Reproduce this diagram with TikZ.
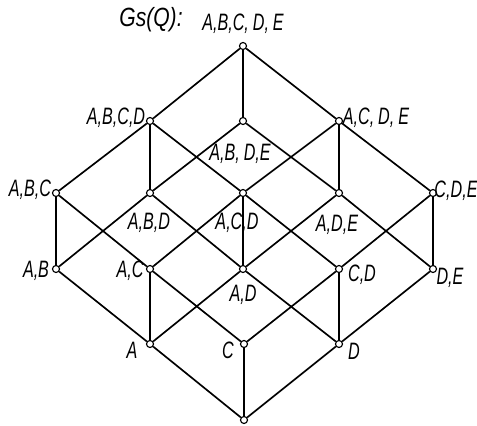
\documentclass[tikz,border=0pt]{standalone}
\usepackage{fontspec}
\newfontfamily\lblfont[FakeStretch=0.68]{Liberation Sans}
\newfontfamily\titlefont[FakeStretch=0.8]{Liberation Sans}

\begin{document}
\begin{tikzpicture}[x=0.02cm, y=-0.02cm, line width=0.95pt,
    vtx/.style={draw, circle, inner sep=0pt, minimum size=4pt, line width=0.65pt},
    lbl/.style={font=\lblfont\itshape\fontsize{13.5}{15}\selectfont, inner sep=0pt}]
    \useasboundingbox (0, 0) rectangle (477, 426);

    % Title
    \node[font=\titlefont\itshape\fontsize{15}{17}\selectfont, inner sep=0pt] (title) at (151, 20) {Gs(Q):};

    % Vertices
    \node[vtx] (top) at (243, 46) {};
    \node[vtx] (abcd) at (150, 121) {};
    \node[vtx] (abde) at (243, 121) {};
    \node[vtx] (acde) at (339, 121) {};
    \node[vtx] (abc) at (56, 193) {};
    \node[vtx] (abd) at (150, 193) {};
    \node[vtx] (acd) at (243, 193) {};
    \node[vtx] (ade) at (339, 193) {};
    \node[vtx] (cde) at (433, 193) {};
    \node[vtx] (ab) at (56, 269) {};
    \node[vtx] (ac) at (150, 269) {};
    \node[vtx] (ad) at (243, 269) {};
    \node[vtx] (cd) at (339, 269) {};
    \node[vtx] (de) at (433, 269) {};
    \node[vtx] (a) at (150, 344) {};
    \node[vtx] (c) at (244, 344) {};
    \node[vtx] (d) at (339, 344) {};
    \node[vtx] (bot) at (244, 420) {};

    % Labels
    \node[lbl] (Ltop) at (243, 24) {A,B,C,\,D,\,E};
    \node[lbl] (Labcd) at (116, 118) {A,B,C,D};
    \node[lbl] (Labde) at (240, 154) {A,B,\,D,E};
    \node[lbl] (Lacde) at (376, 118) {A,C,\,D,\,E};
    \node[lbl] (Labc) at (30, 190) {A,B,C};
    \node[lbl] (Labd) at (149, 223) {A,B,D};
    \node[lbl] (Lacd) at (237, 223) {A,C,D};
    \node[lbl] (Lade) at (337, 225) {A,D,E};
    \node[lbl] (Lcde) at (456, 191) {C,D,E};
    \node[lbl] (Lab) at (36, 271) {A,B};
    \node[lbl] (Lac) at (130, 271) {A,C};
    \node[lbl] (Lad) at (243, 295) {A,D};
    \node[lbl] (Lcd) at (362, 275) {C,D};
    \node[lbl] (Lde) at (450, 278) {D,E};
    \node[lbl] (La) at (132, 350) {A};
    \node[lbl] (Lc) at (228, 350) {C};
    \node[lbl] (Ld) at (354, 351) {D};

    % Top to first row
    \draw (top) -- (abcd);
    \draw (top) -- (abde);
    \draw (top) -- (acde);

    % First row to second row
    \draw (abcd) -- (abc);
    \draw (abcd) -- (abd);
    \draw (abcd) -- (acd);
    \draw (abde) -- (abd);
    \draw (abde) -- (ade);
    \draw (acde) -- (acd);
    \draw (acde) -- (ade);
    \draw (acde) -- (cde);

    % Second row to third row
    \draw (abc) -- (ab);
    \draw (abc) -- (ac);
    \draw (abd) -- (ab);
    \draw (abd) -- (ad);
    \draw (acd) -- (ac);
    \draw (acd) -- (ad);
    \draw (acd) -- (cd);
    \draw (ade) -- (ad);
    \draw (ade) -- (de);
    \draw (cde) -- (cd);
    \draw (cde) -- (de);

    % Third row to singletons
    \draw (ab) -- (a);
    \draw (ac) -- (a);
    \draw (ac) -- (c);
    \draw (ad) -- (a);
    \draw (ad) -- (d);
    \draw (cd) -- (c);
    \draw (cd) -- (d);
    \draw (de) -- (d);

    % Singletons to bottom
    \draw (a) -- (bot);
    \draw (c) -- (bot);
    \draw (d) -- (bot);
\end{tikzpicture}
\end{document}
